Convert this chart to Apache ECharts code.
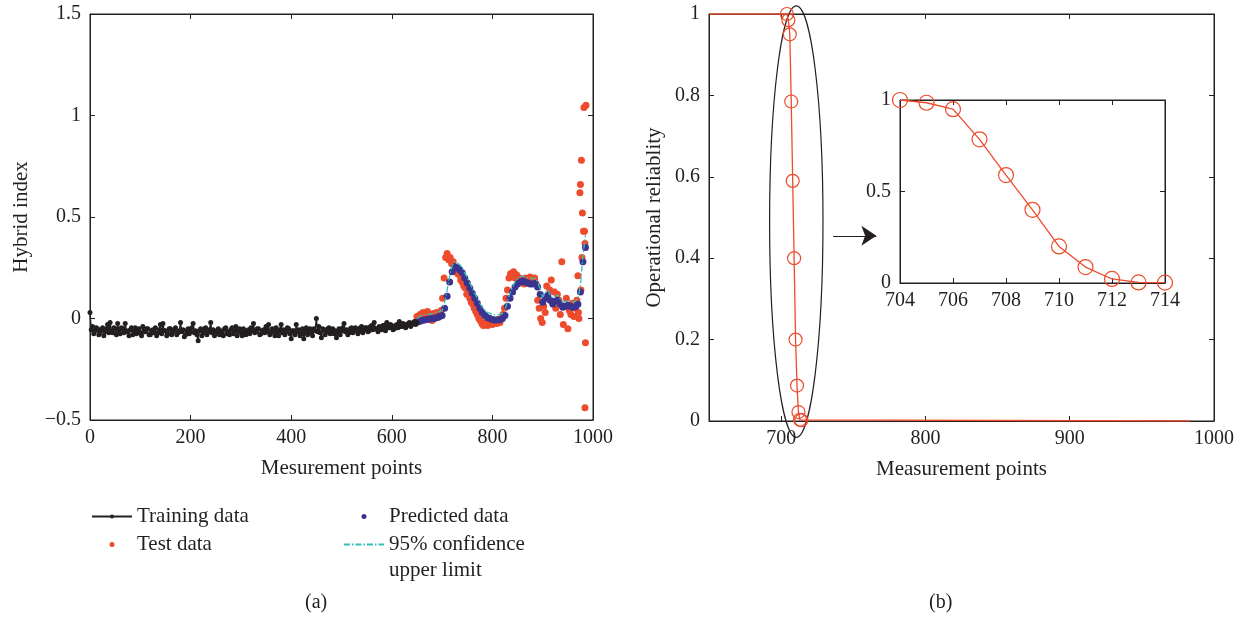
<!DOCTYPE html>
<html>
<head>
<meta charset="utf-8">
<title>Hybrid index and operational reliability</title>
<script src="https://cdn.jsdelivr.net/npm/echarts@6/dist/echarts.min.js"></script>
</head>
<body style="margin:0;background:#fff">
<div id="main" style="width:1244px;height:625px;"></div>
<script>
// (a) hybrid index
var trainStart = 0, trainStep = 2.5;
var trainData = [
  0.03, -0.055, -0.04, -0.075, -0.06, -0.045, -0.05, -0.08, -0.07, -0.055, -0.045, -0.085, -0.065, -0.05, -0.03, -0.07, -0.02, -0.06, -0.07, -0.045,
  -0.05, -0.08, -0.025, -0.06, -0.075, -0.045, -0.05, -0.07, -0.025, -0.06, -0.065, -0.085, -0.055, -0.045, -0.08, -0.065, -0.045, -0.075, -0.06, -0.05,
  -0.07, -0.085, -0.04, -0.065, -0.065, -0.05, -0.05, -0.08, -0.08, -0.06, -0.055, -0.07, -0.045, -0.085, -0.07, -0.055, -0.03, -0.075, -0.025, -0.06,
  -0.06, -0.085, -0.075, -0.05, -0.05, -0.08, -0.065, -0.055, -0.045, -0.08, -0.07, -0.06, -0.02, -0.065, -0.055, -0.09, -0.08, -0.06, -0.05, -0.075,
  -0.065, -0.045, -0.025, -0.07, -0.06, -0.08, -0.11, -0.06, -0.05, -0.085, -0.07, -0.05, -0.045, -0.08, -0.065, -0.055, -0.02, -0.07, -0.055, -0.085,
  -0.075, -0.06, -0.05, -0.08, -0.06, -0.07, -0.085, -0.05, -0.045, -0.075, -0.065, -0.08, -0.055, -0.045, -0.075, -0.06, -0.04, -0.085, -0.06, -0.05,
  -0.07, -0.085, -0.05, -0.065, -0.08, -0.06, -0.055, -0.075, -0.045, -0.06, -0.025, -0.07, -0.065, -0.05, -0.05, -0.08, -0.075, -0.06, -0.055, -0.07,
  -0.04, -0.065, -0.03, -0.08, -0.07, -0.05, -0.06, -0.085, -0.045, -0.065, -0.085, -0.055, -0.03, -0.07, -0.055, -0.08, -0.065, -0.045, -0.05, -0.075,
  -0.1, -0.06, -0.06, -0.08, -0.03, -0.065, -0.055, -0.085, -0.075, -0.05, -0.1, -0.065, -0.045, -0.08, -0.06, -0.05, -0.07, -0.085, -0.05, -0.06,
  0.0, -0.065, -0.04, -0.07, -0.095, -0.05, -0.055, -0.08, -0.065, -0.05, -0.045, -0.075, -0.06, -0.05, -0.075, -0.06, -0.095, -0.07, -0.05, -0.08,
  -0.06, -0.045, -0.025, -0.065, -0.055, -0.08, -0.07, -0.05, -0.045, -0.07, -0.06, -0.045, -0.05, -0.075, -0.065, -0.045, -0.04, -0.07, -0.055, -0.045,
  -0.045, -0.065, -0.06, -0.04, -0.035, -0.055, -0.02, -0.05, -0.05, -0.065, -0.04, -0.05, -0.055, -0.035, -0.035, -0.06, -0.02, -0.045, -0.045, -0.03,
  -0.035, -0.055, -0.05, -0.035, -0.03, -0.045, -0.015, -0.04, -0.04, -0.025, -0.03, -0.045, -0.035, -0.025, -0.02, -0.04, -0.03, -0.02, -0.015, -0.03,
  -0.02];

var testStart = 650, testStep = 3;
var testData = [0.01, -0.01, 0.02, 0.0, 0.03, -0.005, 0.015, 0.035, 0.0, 0.02,
  -0.01, 0.025, 0.01, 0.03, 0.005, 0.02, 0.04, 0.1, 0.2, 0.3,
  0.32, 0.29, 0.3, 0.27, 0.28, 0.25, 0.24, 0.22, 0.215, 0.19,
  0.18, 0.16, 0.15, 0.12, 0.125, 0.1, 0.08, 0.07, 0.05, 0.035,
  0.02, 0.0, -0.01, -0.025, -0.035, -0.03, -0.02, -0.035, -0.025, -0.015,
  -0.03, -0.02, -0.01, -0.025, -0.005, -0.02, 0.0, 0.02, 0.05, 0.1,
  0.14, 0.2, 0.22, 0.21, 0.23, 0.2, 0.215, 0.19, 0.2, 0.18,
  0.195, 0.17, 0.2, 0.18, 0.19, 0.205, 0.175, 0.19, 0.2, 0.17,
  0.09, 0.05, 0.0, -0.02, 0.06, 0.03, 0.16, 0.1, 0.14, 0.19,
  0.08, 0.13, 0.05, 0.12, 0.09, 0.02, 0.28, -0.03, 0.06, 0.1,
  -0.05, 0.04, 0.02, 0.075, 0.01, 0.05, 0.09, 0.03];
var testOutliers = [[970, 0.21], [972, 0.0], [974, 0.62], [975, 0.66], [976, 0.14],
  [977, 0.78], [978, 0.3], [979, 0.52], [981, 0.43], [982, 1.04], [983, 0.43],
  [984, 0.37], [986, 1.05], [985, -0.12], [984, -0.44]];

var predStart = 650, predStep = 5;
var predData = [-0.018, -0.015, -0.01, -0.008, -0.005, -0.003, 0.0, 0.0, 0.005, 0.01,
  0.015, 0.05, 0.11, 0.18, 0.23, 0.255, 0.25, 0.24, 0.225, 0.2,
  0.175, 0.15, 0.125, 0.1, 0.075, 0.05, 0.03, 0.015, 0.005, 0.0,
  -0.005, -0.008, -0.008, -0.006, 0.0, 0.015, 0.06, 0.1, 0.13, 0.155,
  0.17, 0.18, 0.185, 0.18, 0.175, 0.17, 0.17, 0.172, 0.155, 0.12,
  0.08, 0.1, 0.115, 0.09, 0.072, 0.085, 0.09, 0.07, 0.056, 0.06,
  0.065, 0.06, 0.055, 0.058, 0.07, 0.13, 0.28, 0.35];

var upperData = [0.0, 0.01, 0.015, 0.02, 0.02, 0.02, 0.025, 0.03, 0.03, 0.035,
  0.04, 0.08, 0.14, 0.21, 0.26, 0.28, 0.275, 0.265, 0.25, 0.225,
  0.2, 0.175, 0.15, 0.125, 0.1, 0.075, 0.055, 0.04, 0.03, 0.025,
  0.02, 0.018, 0.018, 0.02, 0.025, 0.04, 0.085, 0.125, 0.155, 0.18,
  0.195, 0.205, 0.21, 0.205, 0.2, 0.2, 0.195, 0.2, 0.18, 0.145,
  0.105, 0.125, 0.14, 0.115, 0.1, 0.11, 0.115, 0.095, 0.08, 0.085,
  0.09, 0.085, 0.08, 0.085, 0.1, 0.16, 0.31, 0.41];

// (b) operational reliability
var relX = [704, 705, 706, 707, 708, 709, 710, 711, 712, 713, 714];
var relY = [1.0, 0.985, 0.95, 0.785, 0.59, 0.4, 0.2, 0.087, 0.022, 0.003, 0.002];
var relFirst = [650, 1];
var relLast = [983, 0];
var ellipseCenter = [710.5, 0.49];
var ellipseRadius = [18.5, 0.53];
var arrowFrom = [736, 0.455];
var arrowTo = [766, 0.455];

function pairs(start, step, vals) {
  var out = [];
  for (var i = 0; i < vals.length; i++) out.push([start + i * step, vals[i]]);
  return out;
}
function minus(v) {
  var s = String(+v.toFixed(2));
  return s.charAt(0) === '-' ? '\u2212' + s.slice(1) : s;
}

var ink = '#231f20';
var red = '#ee4a2c';
var navy = '#3a338f';
var cyan = '#35c2b9';
var font = '"Liberation Serif", "DejaVu Serif", serif';
var tickSize = 20, nameSize = 21;

function xAx(grid, min, max, interval, name, top, custom) {
  var a = {
    type: 'value', gridIndex: grid, min: min, max: max, interval: interval,
    position: top ? 'top' : 'bottom',
    axisLine: {show: true, onZero: false, lineStyle: {color: ink, width: 1}},
    axisTick: {show: true, inside: true, length: 5, lineStyle: {color: ink}},
    axisLabel: {show: !top, margin: 8, color: ink, fontFamily: font, fontSize: tickSize, formatter: minus},
    splitLine: {show: false}
  };
  if (custom) { a.axisTick.customValues = custom; a.axisLabel.customValues = custom; }
  if (name) {
    a.name = name; a.nameLocation = 'middle'; a.nameGap = 38;
    a.nameTextStyle = {color: ink, fontFamily: font, fontSize: nameSize};
  }
  return a;
}
function yAx(grid, min, max, interval, name, gap, right) {
  var a = {
    type: 'value', gridIndex: grid, min: min, max: max, interval: interval,
    position: right ? 'right' : 'left',
    axisLine: {show: true, onZero: false, lineStyle: {color: ink, width: 1}},
    axisTick: {show: true, inside: true, length: 5, lineStyle: {color: ink}},
    axisLabel: {show: !right, margin: 9, color: ink, fontFamily: font, fontSize: tickSize, formatter: minus},
    splitLine: {show: false}
  };
  if (name) {
    a.name = name; a.nameLocation = 'middle'; a.nameRotate = 90; a.nameGap = gap;
    a.nameTextStyle = {color: ink, fontFamily: font, fontSize: nameSize};
  }
  return a;
}

var relPoints = [{value: relFirst, symbol: 'none'}];
for (var i = 0; i < relX.length; i++) relPoints.push([relX[i], relY[i]]);
relPoints.push({value: relLast, symbol: 'none'});
var insetPoints = relX.map(function (x, i) { return [x, relY[i]]; });

var hollow = {color: 'rgba(0,0,0,0)', borderColor: red, borderWidth: 1.2};
var legendText = {color: ink, fontFamily: font, fontSize: nameSize};

var chart = echarts.init(document.getElementById('main'));
chart.setOption({
  animation: false,
  backgroundColor: '#fff',
  grid: [
    {left: 90, top: 14, width: 503, height: 406, show: true, borderColor: ink, borderWidth: 1},
    {left: 709, top: 14, width: 505, height: 407, show: true, borderColor: ink, borderWidth: 1},
    {left: 900, top: 100, width: 265, height: 183, show: true, borderColor: ink, borderWidth: 1, backgroundColor: '#fff'}
  ],
  xAxis: [
    xAx(0, 0, 1000, 200, 'Mesurement points'),
    xAx(0, 0, 1000, 200, null, true),
    xAx(1, 650, 1000, 50, 'Measurement points', false, [700, 800, 900, 1000]),
    xAx(1, 650, 1000, 50, null, true, [700, 800, 900, 1000]),
    xAx(2, 704, 714, 2),
    xAx(2, 704, 714, 2, null, true)
  ],
  yAxis: [
    yAx(0, -0.5, 1.5, 0.5, 'Hybrid index', 58),
    yAx(0, -0.5, 1.5, 0.5, null, 0, true),
    yAx(1, 0, 1, 0.2, 'Operational reliablity', 44),
    yAx(1, 0, 1, 0.2, null, 0, true),
    yAx(2, 0, 1, 0.5),
    yAx(2, 0, 1, 0.5, null, 0, true)
  ],
  legend: [
    {left: 86, top: 501, orient: 'vertical', itemWidth: 40, itemHeight: 5, itemGap: 7,
     data: ['Training data', 'Test data'], textStyle: legendText},
    {left: 338, top: 501, orient: 'vertical', itemWidth: 40, itemHeight: 5, itemGap: 7,
     data: ['Predicted data',
            {name: '95% confidence upper limit', itemStyle: {color: 'rgba(0,0,0,0)', borderWidth: 0}}],
     formatter: function (n) { return n === '95% confidence upper limit' ? '95% confidence' : n; },
     textStyle: legendText}
  ],
  graphic: [
    {type: 'text', left: 389, top: 560, style: {text: 'upper limit', fill: ink, font: nameSize + 'px ' + font}},
    {type: 'text', left: 305, top: 593, style: {text: '(a)', fill: ink, font: '20px ' + font}},
    {type: 'text', left: 929, top: 593, style: {text: '(b)', fill: ink, font: '20px ' + font}}
  ],
  series: [
    {name: 'Training data', type: 'line', xAxisIndex: 0, yAxisIndex: 0,
     data: pairs(trainStart, trainStep, trainData), color: ink,
     symbol: 'circle', symbolSize: 5, showAllSymbol: true,
     lineStyle: {width: 1.4, color: ink}},
    {name: 'Test data', type: 'scatter', xAxisIndex: 0, yAxisIndex: 0,
     data: pairs(testStart, testStep, testData).concat(testOutliers),
     color: red, symbolSize: 7, itemStyle: {opacity: 1}},
    {name: 'Predicted data', type: 'scatter', xAxisIndex: 0, yAxisIndex: 0,
     data: pairs(predStart, predStep, predData), color: navy, symbolSize: 7,
     itemStyle: {opacity: 1}},
    {name: '95% confidence upper limit', type: 'line', xAxisIndex: 0, yAxisIndex: 0,
     data: pairs(predStart, predStep, upperData), color: cyan, symbol: 'none',
     lineStyle: {width: 1.3, color: cyan, type: [6, 2, 1.5, 2]}},
    {name: 'reliability', type: 'line', xAxisIndex: 2, yAxisIndex: 2,
     data: relPoints, symbol: 'circle', symbolSize: 13,
     lineStyle: {width: 1.3, color: red}, itemStyle: hollow,
     markLine: {silent: true, symbol: ['none', 'arrow'], symbolSize: 15,
       lineStyle: {color: ink, width: 1.2, type: 'solid'}, label: {show: false},
       data: [[{coord: arrowFrom}, {coord: arrowTo}]]}},
    {name: 'ellipse', type: 'custom', xAxisIndex: 2, yAxisIndex: 2,
     data: [[ellipseCenter[0], ellipseCenter[1], ellipseRadius[0], ellipseRadius[1]]],
     renderItem: function (params, api) {
       var c = api.coord([api.value(0), api.value(1)]);
       var s = api.size([api.value(2), api.value(3)]);
       return {type: 'ellipse', shape: {cx: c[0], cy: c[1], rx: s[0], ry: s[1]},
               style: {fill: 'none', stroke: ink, lineWidth: 1.2}};
     }},
    {name: 'reliability inset', type: 'line', xAxisIndex: 4, yAxisIndex: 4,
     data: insetPoints, symbol: 'circle', symbolSize: 15,
     lineStyle: {width: 1.3, color: red}, itemStyle: hollow}
  ]
});
</script>
</body>
</html>
